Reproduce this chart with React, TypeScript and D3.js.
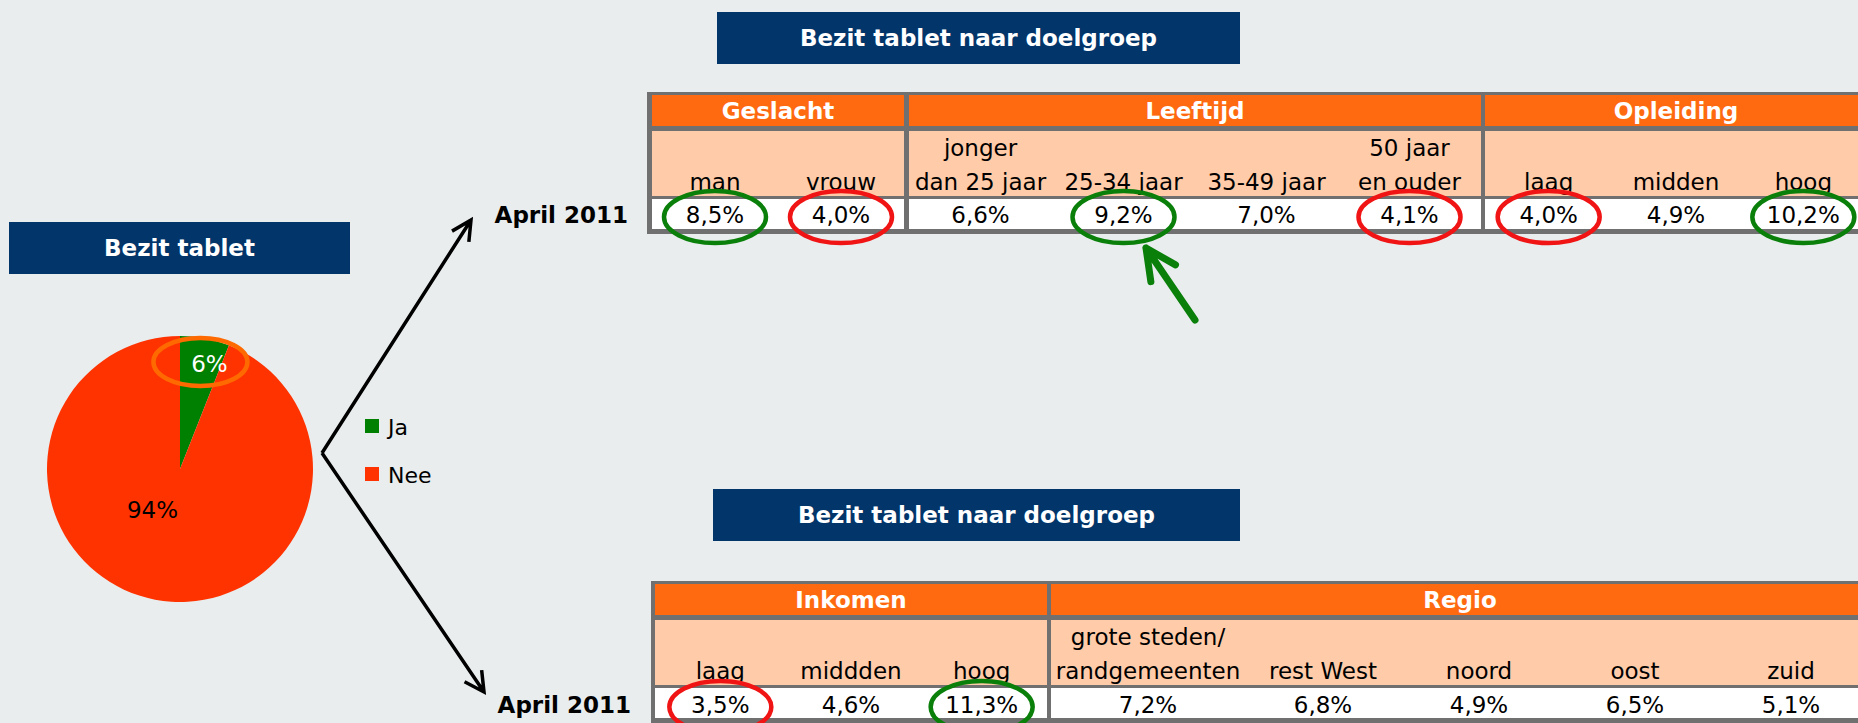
import React from 'react';
import * as d3 from 'd3';

// ---------- DATA ----------
const pieCategories = ['Ja', 'Nee'];
const pieValues = [6, 94];
const pieTitle = 'Bezit tablet';

const tableTitle = 'Bezit tablet naar doelgroep';
const periodLabel = 'April 2011';

const topGroups = ['Geslacht', 'Leeftijd', 'Opleiding'];
const topLine1 = [['', ''], ['jonger', '', '', '50 jaar'], ['', '', '']];
const topLine2 = [['man', 'vrouw'], ['dan 25 jaar', '25-34 jaar', '35-49 jaar', 'en ouder'], ['laag', 'midden', 'hoog']];
const topValues = [[8.5, 4.0], [6.6, 9.2, 7.0, 4.1], [4.0, 4.9, 10.2]];
const topMarks = [['green', 'red'], [null, 'green', null, 'red'], ['red', null, 'green']];

const bottomGroups = ['Inkomen', 'Regio'];
const bottomLine1 = [['', '', ''], ['grote steden/', '', '', '', '']];
const bottomLine2 = [['laag', 'middden', 'hoog'], ['randgemeenten', 'rest West', 'noord', 'oost', 'zuid']];
const bottomValues = [[3.5, 4.6, 11.3], [7.2, 6.8, 4.9, 6.5, 5.1]];
const bottomMarks = [['red', null, 'green'], [null, null, null, null, null]];

// ---------- STYLE / LAYOUT ----------
const W = 1858, H = 723;
const BG = '#E9EDEE';
const NAVY = '#02356A';
const ORANGE = '#FF6A10';
const PEACH = '#FFCBA8';
const GRID = '#707070';
const FONT = '"DejaVu Sans", Verdana, sans-serif';
const markColor: Record<string, string> = { green: '#0A7F0A', red: '#F01414' };
const pieColors = ['#008000', '#FF3300'];

const nl = d3.formatLocale({ decimal: ',', thousands: '.', grouping: [3], currency: ['€', ''] });
const fmt = (v: number) => nl.format('.1f')(v) + '%';

type TableLayout = {
  left: number; right: number;
  top: number; orangeTop: number; orangeBot: number; peachTop: number; peachBot: number;
  whiteTop: number; whiteBot: number; bot: number;
  groupX: [number, number][];
  weights: number[][];
  headerY: number; line1Y: number; line2Y: number; valueY: number; markY: number;
};

const topLayout: TableLayout = {
  left: 647, right: 1875,
  top: 92, orangeTop: 95, orangeBot: 126, peachTop: 131, peachBot: 196,
  whiteTop: 199, whiteBot: 229, bot: 234,
  groupX: [[652, 904], [909, 1481], [1485, 1867]],
  weights: [[1, 1], [1, 1, 1, 1], [1, 1, 1]],
  headerY: 119, line1Y: 156, line2Y: 190, valueY: 223, markY: 217,
};

const bottomLayout: TableLayout = {
  left: 651, right: 1875,
  top: 581, orangeTop: 584, orangeBot: 615, peachTop: 620, peachBot: 685,
  whiteTop: 688, whiteBot: 718, bot: 724,
  groupX: [[655, 1047], [1051, 1869]],
  weights: [[1, 1, 1], [194, 156, 156, 156, 156]],
  headerY: 608, line1Y: 645, line2Y: 679, valueY: 713, markY: 707,
};

function Table({ L, groups, line1, line2, values, marks }: {
  L: TableLayout; groups: string[]; line1: string[][]; line2: string[][];
  values: number[][]; marks: (string | null)[][];
}) {
  return (
    <g>
      <rect x={L.left} y={L.top} width={L.right - L.left} height={L.bot - L.top} fill={GRID} />
      {groups.map((g, gi) => {
        const [x0, x1] = L.groupX[gi];
        const w = L.weights[gi];
        const cum = [0, ...d3.cumsum(w)];
        const xs = d3.scaleLinear().domain([0, d3.sum(w)]).range([x0, x1]);
        const centers = w.map((_, i) => (xs(cum[i]) + xs(cum[i + 1])) / 2);
        return (
          <g key={g}>
            <rect x={x0} y={L.orangeTop} width={x1 - x0} height={L.orangeBot - L.orangeTop} fill={ORANGE} />
            <rect x={x0} y={L.peachTop} width={x1 - x0} height={L.peachBot - L.peachTop} fill={PEACH} />
            <rect x={x0} y={L.whiteTop} width={x1 - x0} height={L.whiteBot - L.whiteTop} fill="#FFFFFF" />
            <text x={(x0 + x1) / 2} y={L.headerY} textAnchor="middle" fontFamily={FONT} fontWeight="bold" fontSize={23} fill="#FFFFFF">{g}</text>
            {centers.map((cx, i) => (
              <g key={i}>
                {line1[gi][i] && <text x={cx} y={L.line1Y} textAnchor="middle" fontFamily={FONT} fontSize={23} fill="#000">{line1[gi][i]}</text>}
                <text x={cx} y={L.line2Y} textAnchor="middle" fontFamily={FONT} fontSize={23} fill="#000">{line2[gi][i]}</text>
                <text x={cx} y={L.valueY} textAnchor="middle" fontFamily={FONT} fontSize={23} fill="#000">{fmt(values[gi][i])}</text>
              </g>
            ))}
            {centers.map((cx, i) => marks[gi][i] ? (
              <ellipse key={'m' + i} cx={cx} cy={L.markY} rx={51} ry={26} fill="none" stroke={markColor[marks[gi][i] as string]} strokeWidth={4.5} />
            ) : null)}
          </g>
        );
      })}
    </g>
  );
}

function arrowPath(from: [number, number], to: [number, number], len: number, angDeg: number) {
  const back = Math.atan2(from[1] - to[1], from[0] - to[0]);
  const a = (angDeg * Math.PI) / 180;
  const p = d3.path();
  p.moveTo(from[0], from[1]);
  p.lineTo(to[0], to[1]);
  p.moveTo(to[0] + len * Math.cos(back + a), to[1] + len * Math.sin(back + a));
  p.lineTo(to[0], to[1]);
  p.lineTo(to[0] + len * Math.cos(back - a), to[1] + len * Math.sin(back - a));
  return p.toString();
}

function TitleBox({ x, y, w, h, text }: { x: number; y: number; w: number; h: number; text: string }) {
  return (
    <g>
      <rect x={x} y={y} width={w} height={h} fill={NAVY} />
      <text x={x + w / 2} y={y + h / 2 + 8} textAnchor="middle" fontFamily={FONT} fontWeight="bold" fontSize={23} fill="#FFFFFF">{text}</text>
    </g>
  );
}

export default function App() {
  const cx = 180, cy = 469, r = 133;
  const arcs = d3.pie<number>().sort(null).value((d) => d)(pieValues);
  const arcGen = d3.arc<d3.PieArcDatum<number>>().innerRadius(0).outerRadius(r);
  const labelArc = d3.arc<d3.PieArcDatum<number>>().innerRadius(109).outerRadius(109);
  const c0 = labelArc.centroid(arcs[0]);
  const labelArc2 = d3.arc<d3.PieArcDatum<number>>().innerRadius(40).outerRadius(40);
  const c1 = labelArc2.centroid(arcs[1]);

  const junction: [number, number] = [322, 453];

  return (
    <svg width={W} height={H} style={{ position: 'absolute', left: 0, top: 0, display: 'block' }}>
      <rect x={0} y={0} width={W} height={H} fill={BG} />

      {/* Pie section */}
      <TitleBox x={9} y={222} w={341} h={52} text={pieTitle} />
      <g transform={`translate(${cx},${cy})`}>
        {arcs.map((a, i) => (
          <path key={i} d={arcGen(a) || ''} fill={pieColors[i]} />
        ))}
        <text x={c0[0] + 9} y={c0[1] + 10} textAnchor="middle" fontFamily={FONT} fontSize={23} fill="#FFFFFF">{fmt(pieValues[0]).replace(',0', '')}</text>
        <ellipse cx={c0[0]} cy={c0[1]} rx={47} ry={24} fill="none" stroke="#FF6A00" strokeWidth={4.5} />
        <text x={c1[0] - 20} y={c1[1] + 10} textAnchor="middle" fontFamily={FONT} fontSize={23} fill="#000">{fmt(pieValues[1]).replace(',0', '')}</text>
      </g>

      {/* Legend */}
      {pieCategories.map((c, i) => (
        <g key={c} transform={`translate(365,${419 + i * 48})`}>
          <rect x={0} y={0} width={14} height={14} fill={pieColors[i]} />
          <text x={23} y={16} fontFamily={FONT} fontSize={22} fill="#000">{c}</text>
        </g>
      ))}

      {/* Black arrows */}
      <path d={arrowPath(junction, [471, 220], 22, 27)} fill="none" stroke="#000" strokeWidth={3.5} strokeLinejoin="miter" />
      <path d={arrowPath(junction, [484, 692], 22, 28)} fill="none" stroke="#000" strokeWidth={3.5} strokeLinejoin="miter" />

      {/* Period labels */}
      <text x={628} y={223} textAnchor="end" fontFamily={FONT} fontWeight="bold" fontSize={23} fill="#000">{periodLabel}</text>
      <text x={631} y={713} textAnchor="end" fontFamily={FONT} fontWeight="bold" fontSize={23} fill="#000">{periodLabel}</text>

      {/* Titles */}
      <TitleBox x={717} y={12} w={523} h={52} text={tableTitle} />
      <TitleBox x={713} y={489} w={527} h={52} text={tableTitle} />

      {/* Tables */}
      <Table L={topLayout} groups={topGroups} line1={topLine1} line2={topLine2} values={topValues} marks={topMarks} />
      <Table L={bottomLayout} groups={bottomGroups} line1={bottomLine1} line2={bottomLine2} values={bottomValues} marks={bottomMarks} />

      {/* Green arrow */}
      <path d={arrowPath([1195, 320], [1146, 248], 34, 26)} fill="none" stroke="#0A7F0A" strokeWidth={7} strokeLinecap="round" strokeLinejoin="round" />
    </svg>
  );
}
